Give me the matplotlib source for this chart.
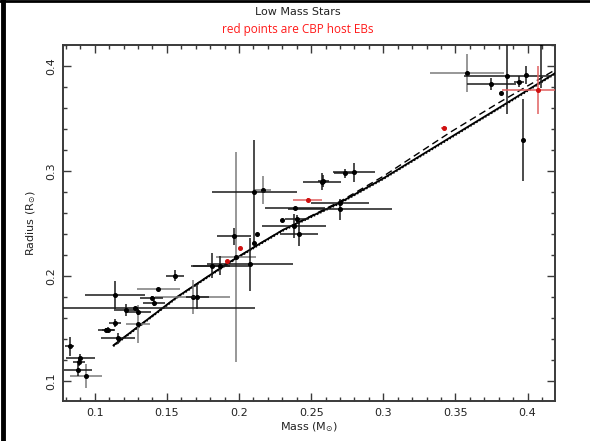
import matplotlib
matplotlib.use('Agg')
import matplotlib.pyplot as plt
from matplotlib.ticker import MultipleLocator
import numpy as np

# --- data ---
# black-errorbar sample
mass_k = [0.0826, 0.0900, 0.0889, 0.0884, 0.1080, 0.1093, 0.1139, 0.1162, 0.1139, 0.1280,
          0.1220, 0.1300, 0.1394, 0.1412, 0.1556, 0.1710, 0.1810, 0.1870, 0.2076, 0.1965,
          0.2106, 0.2123, 0.2106, 0.2296, 0.2389, 0.2400, 0.2382, 0.2417, 0.2574, 0.2585,
          0.2731, 0.2799, 0.2701, 0.2701, 0.3860, 0.3748, 0.3813, 0.3940, 0.3986, 0.4095,
          0.3970]
rad_k = [0.1333, 0.1216, 0.1180, 0.1105, 0.1486, 0.1490, 0.1555, 0.1406, 0.1819, 0.1700,
         0.1676, 0.1660, 0.1788, 0.1746, 0.2003, 0.1800, 0.2100, 0.2100, 0.2110, 0.2380,
         0.2800, 0.2397, 0.2317, 0.2533, 0.2650, 0.2540, 0.2476, 0.2400, 0.2900, 0.2905,
         0.2978, 0.2990, 0.2698, 0.2634, 0.3900, 0.3830, 0.3740, 0.3850, 0.3914, 0.4220,
         0.3295]
xerr_k = [0.003, 0.010, 0.004, 0.010, 0.006, 0.004, 0.004, 0.012, 0.021, 0.083,
          0.009, 0.009, 0.008, 0.0075, 0.006, 0.008, 0.013, 0.020, 0.030, 0.0115,
          0.0295, 0.0, 0.0, 0.0, 0.021, 0.008, 0.022, 0.013, 0.013, 0.004,
          0.0075, 0.0145, 0.020, 0.036, 0.030, 0.017, 0.0, 0.0035, 0.0, 0.0,
          0.0]
yerr_k = [0.009, 0.004, 0.004, 0.006, 0.002, 0.002, 0.004, 0.005, 0.013, 0.0,
          0.006, 0.003, 0.002, 0.003, 0.005, 0.011, 0.012, 0.009, 0.025, 0.008,
          0.050, 0.0, 0.0, 0.0, 0.0, 0.004, 0.011, 0.011, 0.008, 0.006,
          0.004, 0.009, 0.003, 0.010, 0.036, 0.006, 0.0, 0.005, 0.009, 0.043,
          0.039]

# grey-errorbar sample
mass_g = [0.0938, 0.1300, 0.1440, 0.1680, 0.1980, 0.2165, 0.3580]
rad_g = [0.1048, 0.1543, 0.1873, 0.1800, 0.2180, 0.2820, 0.3930]
xerr_g = [0.011, 0.008, 0.015, 0.026, 0.014, 0.006, 0.0255]
yerr_g = [0.011, 0.018, 0.0, 0.016, 0.100, 0.013, 0.018]

# CBP host eclipsing binaries
mass_r = [0.1919, 0.2007, 0.2475, 0.3420, 0.4072]
rad_r = [0.2140, 0.2264, 0.2724, 0.3410, 0.3770]
xerr_r = [0.0, 0.0, 0.010, 0.002, 0.025]
yerr_r = [0.0, 0.0, 0.002, 0.002, 0.023]

# model isochrones
mod_mass = [0.113, 0.157, 0.192, 0.2146, 0.2306, 0.27, 0.30, 0.3465, 0.38, 0.42]
mod_solid = [0.134, 0.180, 0.212, 0.231, 0.244, 0.270, 0.293, 0.332, 0.360, 0.394]
mod_dotted = [0.133, 0.179, 0.211, 0.230, 0.243, 0.269, 0.292, 0.331, 0.359, 0.393]
mod_dashed = [0.134, 0.180, 0.212, 0.231, 0.244, 0.271, 0.295, 0.337, 0.365, 0.397]

AX = '#3a3a3a'

fig = plt.figure(figsize=(5.9, 4.41), dpi=100, facecolor='white')
ax = fig.add_axes([0.1068, 0.0907, 0.8339, 0.8073])

ax.plot(mod_mass, mod_solid, color='black', lw=1.3, zorder=3)
ax.plot(mod_mass, mod_dotted, color='black', lw=1.0, ls=(0, (1, 1.5)), zorder=3)
ax.plot(mod_mass, mod_dashed, color='black', lw=1.0, ls=(0, (5, 3)), zorder=3)

ax.errorbar(mass_g, rad_g, xerr=xerr_g, yerr=yerr_g, fmt='o', ms=2.6,
            color='black', ecolor='#7a7a7a', elinewidth=1.1, capsize=0, zorder=4)
ax.errorbar(mass_k, rad_k, xerr=xerr_k, yerr=yerr_k, fmt='o', ms=2.6,
            color='black', ecolor='#1a1a1a', elinewidth=1.1, capsize=0, zorder=5)
ax.errorbar(mass_r, rad_r, xerr=xerr_r, yerr=yerr_r, fmt='o', ms=2.6,
            color='#d01010', ecolor='#e06060', elinewidth=1.1, capsize=0, zorder=6)

ax.set_xlim(0.078, 0.419)
ax.set_ylim(0.081, 0.42)

ax.xaxis.set_major_locator(MultipleLocator(0.05))
ax.xaxis.set_minor_locator(MultipleLocator(0.01))
ax.yaxis.set_major_locator(MultipleLocator(0.1))
ax.yaxis.set_minor_locator(MultipleLocator(0.02))
ax.set_xticks([0.1, 0.15, 0.2, 0.25, 0.3, 0.35, 0.4])
ax.set_xticklabels(['0.1', '0.15', '0.2', '0.25', '0.3', '0.35', '0.4'])
ax.set_yticks([0.1, 0.2, 0.3, 0.4])
ax.set_yticklabels(['0.1', '0.2', '0.3', '0.4'], rotation=90, va='center')

ax.tick_params(which='both', direction='in', top=True, right=True, color=AX,
               width=1.0, labelsize=8, labelcolor='#222222')
ax.tick_params(which='major', length=6, pad=5)
ax.tick_params(which='minor', length=3)
for s in ax.spines.values():
    s.set_color(AX)
    s.set_linewidth(1.4)

ax.set_xlabel(r'Mass (M$_{\odot}$)', fontsize=8, color='#222222', labelpad=2)
ax.set_ylabel(r'Radius (R$_{\odot}$)', fontsize=8, color='#222222', labelpad=6)

fig.text(0.505, 0.972, 'Low Mass Stars', ha='center', va='center',
         fontsize=8, color='#222222')
fig.text(0.505, 0.932, 'red points are CBP host EBs', ha='center', va='center',
         fontsize=8.5, color='#ff1a1a', family='Open Sans')

# frame lines at the top and left edges of the image
fig.add_artist(plt.Line2D([0.0045, 0.0045], [0, 1], color='black', lw=3.5,
                          transform=fig.transFigure))
fig.add_artist(plt.Line2D([0, 1], [0.998, 0.998], color='black', lw=2,
                          transform=fig.transFigure))

fig.savefig('out.png', dpi=100, facecolor='white')
